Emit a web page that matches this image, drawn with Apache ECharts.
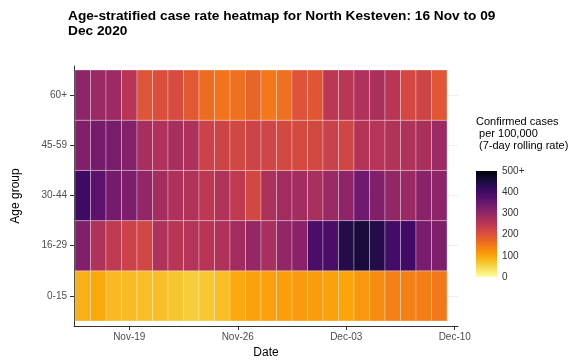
<!DOCTYPE html>
<html><head><meta charset="utf-8">
<script src="https://cdn.jsdelivr.net/npm/echarts@6/dist/echarts.min.js"></script>
<style>html,body{margin:0;padding:0;background:#fff}#c{width:571px;height:361px}</style>
</head><body><div id="c"></div>
<script>
const days = ['2020-11-16','2020-11-17','2020-11-18','2020-11-19','2020-11-20','2020-11-21','2020-11-22','2020-11-23',
  '2020-11-24','2020-11-25','2020-11-26','2020-11-27','2020-11-28','2020-11-29','2020-11-30','2020-12-01',
  '2020-12-02','2020-12-03','2020-12-04','2020-12-05','2020-12-06','2020-12-07','2020-12-08','2020-12-09'];
const ageGroups = ['0-15','16-29','30-44','45-59','60+'];
const rate0_15  = [90, 98, 80, 78, 76, 74, 68, 60, 65, 76, 97, 104, 106, 108, 112, 110, 104, 100, 115, 128, 142, 140, 145, 150];
const rate16_29 = [322, 266, 245, 228, 220, 266, 255, 258, 255, 265, 282, 296, 275, 300, 312, 388, 388, 440, 455, 440, 398, 402, 332, 325];
const rate30_44 = [405, 368, 335, 328, 300, 280, 268, 262, 248, 262, 245, 218, 270, 282, 280, 275, 290, 305, 345, 322, 300, 292, 312, 305];
const rate45_59 = [322, 335, 332, 320, 276, 265, 274, 268, 228, 225, 218, 226, 222, 215, 213, 216, 230, 222, 260, 258, 262, 266, 272, 288];
const rate60plus = [305, 292, 288, 255, 195, 205, 210, 190, 165, 155, 160, 175, 150, 160, 198, 193, 250, 252, 265, 272, 255, 215, 225, 192];
const xTickDays = ['2020-11-19','2020-11-26','2020-12-03','2020-12-10'];
const xTickLabels = ['Nov-19','Nov-26','Dec-03','Dec-10'];
const legendTicks = [0, 100, 200, 300, 400, 500];
const legendTickLabels = ['0', '100', '200', '300', '400', '500+'];

const inferno = ['#000004','#1B0C41','#420A68','#6A176E','#932667','#BC3754','#DD513A','#F37819','#FCA50A','#F6D746','#FCFFA4'];
const dayIndex = d => Math.round((Date.parse(d) - Date.parse(days[0])) / 86400000);
const tickIdx = xTickDays.map(dayIndex);
const rows = [rate0_15, rate16_29, rate30_44, rate45_59, rate60plus];
const data = [];
rows.forEach((arr, r) => arr.forEach((v, i) => data.push([dayIndex(days[i]), r, v])));

const FONT = 'Liberation Sans, Arial, sans-serif';
const chart = echarts.init(document.getElementById('c'), null, {renderer: 'canvas'});
chart.setOption({
  animation: false,
  textStyle: {fontFamily: FONT},
  title: [
    {text: 'Age-stratified case rate heatmap for North Kesteven: 16 Nov to 09\nDec 2020', left: 68, top: 9, padding: 0,
     textStyle: {fontSize: 13.7, fontWeight: 'bold', color: '#000', lineHeight: 15, fontFamily: FONT}},
    {text: 'Confirmed cases\n per 100,000\n (7-day rolling rate)', left: 476, top: 116, padding: 0,
     textStyle: {fontSize: 11, fontWeight: 'normal', color: '#000', lineHeight: 12, fontFamily: FONT}}
  ],
  grid: [
    {left: 74, right: 113, top: 66, bottom: 35, outerBoundsMode: 'none', containLabel: false},
    {left: 476, width: 21, top: 171, height: 106, outerBoundsMode: 'none', containLabel: false}
  ],
  visualMap: {
    show: false, type: 'continuous', min: 0, max: 500, dimension: 2, seriesIndex: 0,
    inRange: {color: inferno.slice().reverse()}
  },
  xAxis: [
    {type: 'value', gridIndex: 0, min: -0.565, max: 24.21,
     name: 'Date', nameLocation: 'middle', nameGap: 20,
     nameTextStyle: {fontSize: 12, color: '#000', fontFamily: FONT},
     axisLine: {show: true, onZero: false, lineStyle: {color: '#333', width: 1}},
     axisTick: {show: true, length: 4, customValues: tickIdx, lineStyle: {color: '#333'}},
     axisLabel: {customValues: tickIdx, fontSize: 10, color: '#4D4D4D', margin: 6,
       formatter: v => xTickLabels[tickIdx.indexOf(Math.round(v))] || ''},
     splitLine: {show: false}},
    {type: 'category', gridIndex: 1, data: [''], show: false}
  ],
  yAxis: [
    {type: 'value', gridIndex: 0, min: -0.6, max: 4.58,
     name: 'Age group', nameLocation: 'middle', nameGap: 52,
     nameTextStyle: {fontSize: 12, color: '#000', fontFamily: FONT},
     axisLine: {show: true, onZero: false, lineStyle: {color: '#333', width: 1}},
     axisTick: {show: true, length: 4, customValues: [0,1,2,3,4], lineStyle: {color: '#333'}},
     axisLabel: {customValues: [0,1,2,3,4], fontSize: 10, color: '#4D4D4D', margin: 7,
       formatter: v => ageGroups[Math.round(v)]},
     splitLine: {show: true, lineStyle: {color: '#EEEEEE', width: 1}}},
    {type: 'value', gridIndex: 1, min: 0, max: 500, interval: 100, position: 'right',
     axisLine: {show: false}, splitLine: {show: false},
     axisTick: {show: true, inside: true, length: 4, lineStyle: {color: 'rgba(255,255,255,0.6)'}},
     axisLabel: {fontSize: 10, color: '#333', margin: 5,
       formatter: v => legendTickLabels[legendTicks.indexOf(v)]}},
    {type: 'value', gridIndex: 1, min: 0, max: 500, interval: 100, position: 'left',
     axisLine: {show: false}, splitLine: {show: false}, axisLabel: {show: false},
     axisTick: {show: true, inside: true, length: 4, lineStyle: {color: 'rgba(255,255,255,0.6)'}}}
  ],
  series: [
    {type: 'custom', xAxisIndex: 0, yAxisIndex: 0, data: data, encode: {x: 0, y: 1},
     renderItem: (params, api) => {
       const p = api.coord([api.value(0) - 0.5, api.value(1) + 0.5]);
       const s = api.size([1, 1]);
       return {type: 'rect', shape: {x: p[0], y: p[1], width: s[0], height: s[1]},
         style: {fill: api.visual('color'), stroke: 'rgba(255,255,255,0.3)', lineWidth: 1}};
     }},
    {type: 'bar', xAxisIndex: 1, yAxisIndex: 1, barWidth: '100%', silent: true,
     data: [legendTicks[legendTicks.length - 1]],
     itemStyle: {color: new echarts.graphic.LinearGradient(0, 0, 0, 1,
       inferno.map((c, i) => ({offset: i / (inferno.length - 1), color: c})))}}
  ]
});
</script></body></html>
